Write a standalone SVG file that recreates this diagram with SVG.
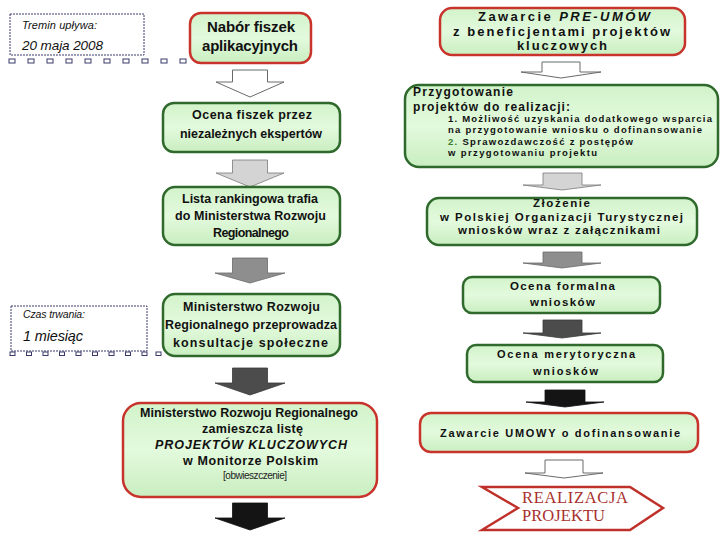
<svg xmlns="http://www.w3.org/2000/svg" width="720" height="540" viewBox="0 0 720 540">
<defs>
<linearGradient id="gfill" x1="0" y1="0" x2="0" y2="1">
<stop offset="0" stop-color="#d2f3ca"/>
<stop offset="0.5" stop-color="#e3fadd"/>
<stop offset="1" stop-color="#c9eec0"/>
</linearGradient>
<style>
.g{fill:url(#gfill);stroke:#2f6a2c;stroke-width:2.5}
.r{fill:url(#gfill);stroke:#c8342c;stroke-width:2.5}
.t{font-family:"Liberation Sans",Arial,sans-serif;font-weight:bold;fill:#111;text-anchor:middle}
.tl{font-family:"Liberation Sans",Arial,sans-serif;font-weight:bold;fill:#111}
.note{fill:#fff;stroke:#3a3a6a;stroke-width:1;stroke-dasharray:2 1}
.mini{fill:#fff;stroke:#3a3a6a;stroke-width:1}
.ni{font-family:"Liberation Sans",Arial,sans-serif;font-style:italic;fill:#111}
.aw{fill:#fff;stroke:#6a6a6a;stroke-width:1}
.a1{fill:#d4d4d4;stroke:#7a7a7a;stroke-width:0.8}
.a2{fill:#8e8e8e;stroke:#6a6a6a;stroke-width:0.8}
.a3{fill:#4c4c4c;stroke:#3a3a3a;stroke-width:0.8}
.a4{fill:#141414;stroke:#111;stroke-width:0.8}
.rs{font-family:"Liberation Serif","Times New Roman",serif;fill:#a8302c;font-size:16.5px}
</style>
</defs>
<rect width="720" height="540" fill="#fff"/>

<g id="note-termin">
<rect class="note" x="10" y="14" width="134" height="41"/>
<text class="ni" x="22" y="29" font-size="11" textLength="75">Tremin upływa:</text>
<text class="ni" x="22" y="50" font-size="13.5" textLength="81">20 maja 2008</text>
<rect class="mini" x="9" y="59" width="6" height="4"/>
<rect class="mini" x="28" y="59" width="6" height="4"/>
<rect class="mini" x="47" y="59" width="6" height="4"/>
<rect class="mini" x="66" y="59" width="6" height="4"/>
<rect class="mini" x="85" y="59" width="6" height="4"/>
<rect class="mini" x="104" y="59" width="6" height="4"/>
<rect class="mini" x="123" y="59" width="6" height="4"/>
<rect class="mini" x="142" y="59" width="6" height="4"/>
<rect class="mini" x="161" y="59" width="6" height="4"/>
<rect class="mini" x="180" y="59" width="6" height="4"/>
</g>

<g id="note-czas">
<rect class="note" x="11" y="306" width="136" height="45"/>
<text class="ni" x="23" y="318" font-size="10.5" textLength="62">Czas trwania:</text>
<text class="ni" x="23" y="341" font-size="14.5" textLength="60">1 miesiąc</text>
<rect class="mini" x="10" y="352" width="5" height="3.5"/>
<rect class="mini" x="26.5" y="352" width="5" height="3.5"/>
<rect class="mini" x="43" y="352" width="5" height="3.5"/>
<rect class="mini" x="59.5" y="352" width="5" height="3.5"/>
<rect class="mini" x="76" y="352" width="5" height="3.5"/>
<rect class="mini" x="92.5" y="352" width="5" height="3.5"/>
<rect class="mini" x="109" y="352" width="5" height="3.5"/>
<rect class="mini" x="125.5" y="352" width="5" height="3.5"/>
<rect class="mini" x="142" y="352" width="5" height="3.5"/>
<rect class="mini" x="156" y="352" width="5" height="3.5"/>
</g>

<g id="connectors">
<path class="aw" d="M232.5,70 H267.5 V82 H284 L250,97 L216,82 H232.5 Z"/>
<path class="a1" d="M232.5,160 H267.5 V173 H284 L250,187 L216,173 H232.5 Z"/>
<path class="a2" d="M232.5,258 H267.5 V273 H285 L250,283 L215,273 H232.5 Z"/>
<path class="a3" d="M232.5,368 H267.5 V383 H285 L250,395 L215,383 H232.5 Z"/>
<path class="a4" d="M232.5,503 H267.5 V518 H285 L250,530 L215,518 H232.5 Z"/>
<path class="aw" d="M542,62 H580 V72 H601 L561,78 L521,72 H542 Z"/>
<path class="a1" d="M543,173 H582 V185 H601 L562,190 L523,185 H543 Z"/>
<path class="a2" d="M543,252 H582 V263 H601 L562,268 L523,263 H543 Z"/>
<path class="a3" d="M543,320 H582 V333 H601 L562,338 L523,333 H543 Z"/>
<path class="a4" d="M545,390 H585 V402 H604 L565,407 L526,402 H545 Z"/>
<path class="aw" d="M545,460 H583 V473 H603 L564,478 L525,473 H545 Z"/>
</g>

<g id="n-nabor">
<rect class="r" x="190" y="13" width="121" height="50" rx="11"/>
<text class="t" x="251" y="32" font-size="15" textLength="88">Nabór fiszek</text>
<text class="t" x="250" y="51" font-size="15" textLength="96">aplikacyjnych</text>
</g>

<g id="n-ocena">
<rect class="g" x="163" y="103" width="177" height="49" rx="11"/>
<text class="t" x="252" y="119" font-size="12.5" textLength="120">Ocena  fiszek  przez</text>
<text class="t" x="251" y="138" font-size="12.5" textLength="142">niezależnych ekspertów</text>
</g>

<g id="n-lista">
<rect class="g" x="163" y="187" width="177" height="58" rx="12"/>
<text class="t" x="250" y="203" font-size="12.5" textLength="136">Lista rankingowa trafia</text>
<text class="t" x="250.5" y="220" font-size="12.5" textLength="151">do Ministerstwa Rozwoju</text>
<text class="t" x="251" y="237" font-size="12.5" textLength="76">Regionalnego</text>
</g>

<g id="n-konsultacje">
<rect class="g" x="163" y="294" width="177" height="62" rx="12"/>
<text class="t" x="251.5" y="311" font-size="12.5" textLength="137">Ministerstwo  Rozwoju</text>
<text class="t" x="251" y="329" font-size="12.5" textLength="172">Regionalnego przeprowadza</text>
<text class="t" x="250.5" y="347" font-size="12.5" textLength="155">konsultacje społeczne</text>
</g>

<g id="n-lista-kluczowych">
<rect class="r" x="123" y="403" width="254" height="94" rx="18"/>
<text class="t" x="249" y="417" font-size="12.5" textLength="218">Ministerstwo Rozwoju Regionalnego</text>
<text class="t" x="252.5" y="433" font-size="12.5" textLength="101">zamieszcza listę</text>
<text class="t" x="251" y="449" font-size="12.5" font-style="italic" textLength="192">PROJEKTÓW KLUCZOWYCH</text>
<text class="t" x="250.5" y="465" font-size="12.5" textLength="135">w Monitorze Polskim</text>
<text x="255" y="479" font-size="10" font-family="'Liberation Sans',Arial,sans-serif" fill="#222" text-anchor="middle" textLength="64">[obwieszczenie]</text>
</g>

<g id="n-pre-umowy">
<rect class="r" x="440" y="8" width="245" height="47" rx="12"/>
<text class="t" x="564" y="21" font-size="13" textLength="172">Zawarcie <tspan font-style="italic">PRE-UMÓW</tspan></text>
<text class="t" x="561.5" y="36" font-size="13" textLength="217">z  beneficjentami  projektów</text>
<text class="t" x="562" y="50" font-size="13" textLength="90">kluczowych</text>
</g>

<g id="n-przygotowanie">
<rect class="g" x="405" y="85" width="313" height="82" rx="14"/>
<text class="tl" x="413" y="96" font-size="12" textLength="100">Przygotowanie</text>
<text class="tl" x="413" y="111" font-size="12" textLength="157">projektów do realizacji:</text>
<text class="tl" x="448" y="122" font-size="9.5" textLength="264">1. Możliwość uzyskania dodatkowego wsparcia</text>
<text class="tl" x="448" y="133" font-size="9.5" textLength="254">na przygotowanie wniosku o dofinansowanie</text>
<text class="tl" x="448" y="145" font-size="9.5" textLength="185"><tspan fill="#3d7d2e">2.</tspan> Sprawozdawczość z postępów</text>
<text class="tl" x="448" y="156" font-size="9.5" textLength="149">w  przygotowaniu projektu</text>
</g>

<g id="n-zlozenie">
<rect class="g" x="427" y="198" width="270" height="47" rx="12"/>
<text class="t" x="561.5" y="207" font-size="11.5" textLength="57">Złożenie</text>
<text class="t" x="561.5" y="221" font-size="11.5" textLength="243">w  Polskiej  Organizacji  Turystycznej</text>
<text class="t" x="559" y="234" font-size="11.5" textLength="202">wniosków wraz z załącznikami</text>
</g>

<g id="n-ocena-formalna">
<rect class="g" x="463" y="277" width="197" height="36" rx="9"/>
<text class="t" x="562.5" y="290" font-size="11.5" textLength="105">Ocena formalna</text>
<text class="t" x="562.5" y="306" font-size="11.5" textLength="65">wniosków</text>
</g>

<g id="n-ocena-merytoryczna">
<rect class="g" x="467" y="345" width="196" height="37" rx="9"/>
<text class="t" x="566" y="358" font-size="11" textLength="138">Ocena merytoryczna</text>
<text class="t" x="565.5" y="375" font-size="11" textLength="65">wniosków</text>
</g>

<g id="n-umowa">
<rect class="r" x="420" y="413" width="278" height="39" rx="11"/>
<text class="t" x="560" y="437" font-size="11" textLength="240">Zawarcie UMOWY o dofinansowanie</text>
</g>

<g id="n-realizacja">
<polygon points="482,487 630,487 663,508 630,530 482,530 518,508" fill="#fff" stroke="#c0302a" stroke-width="2.5" stroke-linejoin="miter"/>
<text class="rs" x="522" y="503" textLength="106">REALIZACJA</text>
<text class="rs" x="522" y="521" textLength="83">PROJEKTU</text>
</g>
</svg>
